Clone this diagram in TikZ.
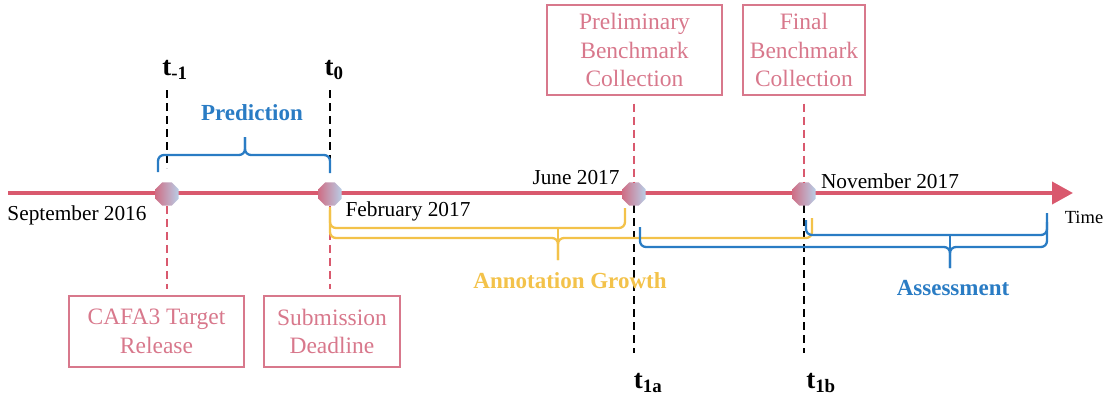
\documentclass[tikz,border=0pt]{standalone}
\usepackage{fontspec}
\setmainfont{Liberation Serif}
\usetikzlibrary{shapes.geometric,arrows.meta}
\definecolor{tlred}{HTML}{D9596E}
\definecolor{boxpink}{HTML}{D8788C}
\definecolor{predblue}{HTML}{2A7CC4}
\definecolor{anyellow}{HTML}{F3C24A}
\definecolor{dotpink}{HTML}{CF6F86}
\definecolor{dotblue}{HTML}{B8CDE6}
\tikzset{
  dotnode/.style={regular polygon, regular polygon sides=8, minimum size=25pt, inner sep=0pt,
    shading=axis, left color=dotpink, right color=dotblue, shading angle=90},
  evbox/.style={draw=boxpink, line width=1.3pt, text=boxpink, align=center,
    font=\fontsize{23.5}{28.5}\selectfont, inner sep=0pt},
  blackdash/.style={draw=black, line width=2.8pt, dash pattern=on 8pt off 5pt},
  pinkdash/.style={draw=tlred, line width=2.6pt, dash pattern=on 8pt off 5pt},
  datelabel/.style={font=\fontsize{21.3}{24}\selectfont, inner sep=0pt},
  tlabel/.style={font=\fontsize{27}{30}\selectfont\bfseries, inner sep=0pt},
  phase/.style={font=\fontsize{23}{26}\selectfont\bfseries, inner sep=0pt},
  bracepath/.style={line width=2.3pt, rounded corners=6pt},
}
\begin{document}
\begin{tikzpicture}[x=1pt,y=-1pt]
\useasboundingbox (0,0) rectangle (1114,399);

% boxes
\node[evbox, minimum width=175pt, minimum height=71pt] (b1) at (156.5,331.5) {CAFA3 Target\\Release};
\node[evbox, minimum width=136pt, minimum height=71pt] (b2) at (332,331.5) {Submission\\Deadline};
\node[evbox, minimum width=175pt, minimum height=90pt] (b3) at (634.5,50) {Preliminary\\Benchmark\\Collection};
\node[evbox, minimum width=122pt, minimum height=90pt] (b4) at (804,50) {Final\\Benchmark\\Collection};

% coordinates
\coordinate (s) at (8,193);
\coordinate (e) at (1073,193);

% t labels
\node[tlabel] (tm1) at (175,70) {t\textsubscript{-1}};
\node[tlabel] (t0) at (334,70) {t\textsubscript{0}};
\node[tlabel] (t1a) at (648,383) {t\textsubscript{1a}};
\node[tlabel] (t1b) at (821,383) {t\textsubscript{1b}};

\coordinate (bm1a) at (167,90);
\coordinate (bm1b) at (167,168);
\coordinate (b0a) at (330,90);
\coordinate (b0b) at (330,172);
\coordinate (b1aa) at (634,205);
\coordinate (b1ab) at (634,353);
\coordinate (b1ba) at (804,205);
\coordinate (b1bb) at (804,353);

% black dashed lines
\draw[blackdash] (bm1a) -- (bm1b);
\draw[blackdash] (b0a) -- (b0b);
\draw[blackdash] (b1aa) -- (b1ab);
\draw[blackdash] (b1ba) -- (b1bb);

% timeline
\draw[tlred, line width=4pt, -{Triangle[length=21pt,width=22pt]}] (s) -- (e);

% dots
\node[dotnode] (c1) at (167,194) {};
\node[dotnode] (c2) at (330,194) {};
\node[dotnode] (c3) at (634,194) {};
\node[dotnode] (c4) at (804,194) {};

% pink dashed links
\draw[pinkdash] (c1.south) -- ([yshift=6pt]b1.north -| c1);
\draw[pinkdash] (c2.south) -- ([yshift=6pt]b2.north -| c2);
\draw[pinkdash] ([yshift=-8pt]b3.south -| c3) -- (c3.north);
\draw[pinkdash] ([yshift=-8pt]b4.south -| c4) -- (c4.north);

% prediction brace
\draw[predblue, bracepath] (158,172) -- (158,155) -- (245,155) -- (245,137);
\draw[predblue, bracepath] (245,137) -- (245,155) -- (330,155) -- (330,173);
\node[phase, text=predblue] (pred) at (252,113) {Prediction};

% annotation growth brace
\draw[anyellow, bracepath] (330,207) -- (330,238) -- (558,238) -- (558,260);
\draw[anyellow, bracepath] (558,260) -- (558,238) -- (812,238) -- (812,218);
\draw[anyellow, bracepath] (330,210) -- (330,228) -- (625,228) -- (625,208);
\draw[anyellow, bracepath] (558,258) -- (558,228);
\node[phase, text=anyellow] (ann) at (570,281) {Annotation Growth};

% assessment brace
\draw[predblue, bracepath] (640,227) -- (640,247) -- (950,247) -- (950,268);
\draw[predblue, bracepath] (950,268) -- (950,247) -- (1047,247) -- (1047,213);
\draw[predblue, bracepath] (806,220) -- (806,235) -- (1047,235) -- (1047,222);
\draw[predblue, bracepath] (950,266) -- (950,235);
\node[phase, text=predblue] (ass) at (953,288) {Assessment};

% date labels
\node[datelabel] (d1) at (77,215) {September 2016};
\node[datelabel] (d2) at (408,211) {February 2017};
\node[datelabel] (d3) at (576,178) {June 2017};
\node[datelabel] (d4) at (890,181) {November 2017};
\node[datelabel, font=\fontsize{18.5}{20}\selectfont] (tm) at (1084,217) {Time};
\end{tikzpicture}
\end{document}
